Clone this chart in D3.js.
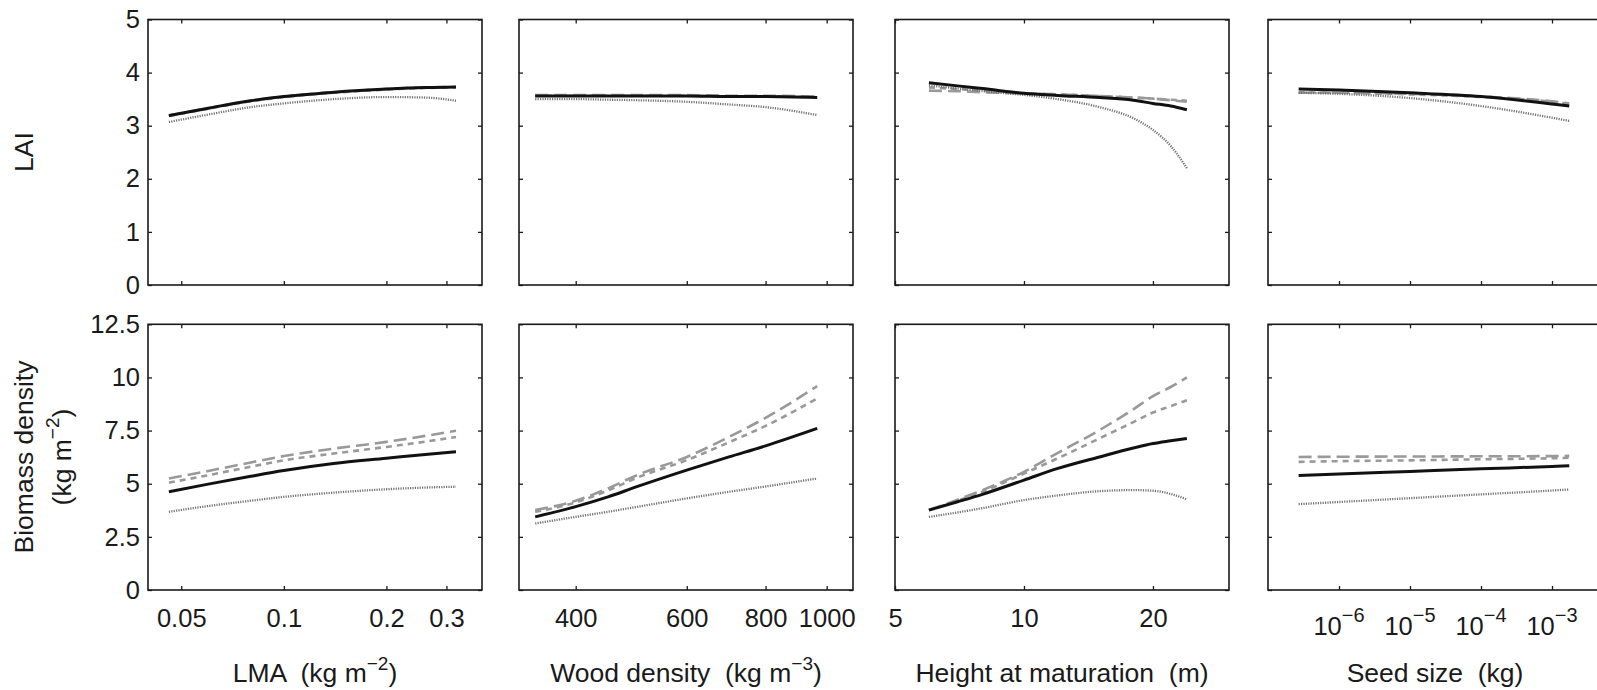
<!DOCTYPE html>
<html>
<head>
<meta charset="utf-8">
<script src="https://cdn.jsdelivr.net/npm/d3@7"></script>
<style>
  body { margin: 0; background: #fff; }
  text { font-family: "Liberation Sans", Arial, Helvetica, sans-serif; fill: #1a1a1a; white-space: pre; }
</style>
</head>
<body>
<svg id="chart" width="1597" height="690"></svg>
<script>
// ---------------- DATA ----------------
// LMA (kg m^-2)
const lmaX        = [0.046, 0.06, 0.08, 0.1, 0.14, 0.2, 0.26, 0.32];
const lmaLaiSolid = [3.19, 3.33, 3.47, 3.55, 3.63, 3.69, 3.72, 3.73];
const lmaLaiLong  = [3.19, 3.33, 3.47, 3.55, 3.63, 3.69, 3.72, 3.73];
const lmaLaiShort = [3.18, 3.32, 3.46, 3.54, 3.62, 3.68, 3.71, 3.72];
const lmaLaiDot   = [3.07, 3.21, 3.35, 3.42, 3.50, 3.54, 3.53, 3.47];
const lmaBioSolid = [4.62, 4.98, 5.35, 5.62, 5.95, 6.20, 6.38, 6.50];
const lmaBioLong  = [5.25, 5.60, 6.00, 6.30, 6.65, 6.97, 7.25, 7.49];
const lmaBioShort = [5.05, 5.40, 5.80, 6.10, 6.42, 6.73, 6.98, 7.20];
const lmaBioDot   = [3.68, 3.95, 4.20, 4.38, 4.58, 4.74, 4.82, 4.86];

// Wood density (kg m^-3)
const woodX        = [345, 400, 450, 500, 600, 700, 800, 966];
const woodLaiSolid = [3.56, 3.56, 3.56, 3.56, 3.56, 3.55, 3.55, 3.53];
const woodLaiLong  = [3.575, 3.575, 3.575, 3.575, 3.575, 3.565, 3.565, 3.545];
const woodLaiShort = [3.565, 3.565, 3.565, 3.565, 3.565, 3.555, 3.555, 3.535];
const woodLaiDot   = [3.50, 3.50, 3.49, 3.48, 3.45, 3.40, 3.35, 3.20];
const woodBioSolid = [3.44, 3.92, 4.38, 4.86, 5.64, 6.26, 6.78, 7.60];
const woodBioLong  = [3.76, 4.20, 4.78, 5.40, 6.26, 7.20, 8.10, 9.59];
const woodBioShort = [3.68, 4.12, 4.68, 5.28, 6.11, 6.95, 7.72, 9.01];
const woodBioDot   = [3.13, 3.44, 3.68, 3.91, 4.31, 4.62, 4.87, 5.25];

// Height at maturation (m)
const heightX        = [6, 7, 8, 10, 12, 15, 18, 20, 22, 24];
const heightLaiSolid = [3.81, 3.75, 3.70, 3.61, 3.57, 3.53, 3.48, 3.42, 3.37, 3.30];
const heightLaiLong  = [3.66, 3.65, 3.63, 3.61, 3.59, 3.56, 3.53, 3.51, 3.48, 3.45];
const heightLaiShort = [3.72, 3.69, 3.66, 3.61, 3.59, 3.56, 3.53, 3.51, 3.49, 3.47];
const heightLaiDot   = [3.76, 3.70, 3.65, 3.58, 3.50, 3.35, 3.14, 2.92, 2.62, 2.20];
const heightBioSolid = [3.76, 4.15, 4.50, 5.17, 5.72, 6.26, 6.68, 6.89, 7.02, 7.13];
const heightBioLong  = [3.76, 4.25, 4.70, 5.56, 6.45, 7.52, 8.50, 9.12, 9.55, 10.0];
const heightBioShort = [3.76, 4.20, 4.62, 5.48, 6.20, 7.13, 7.90, 8.35, 8.65, 8.93];
const heightBioDot   = [3.44, 3.65, 3.85, 4.23, 4.45, 4.65, 4.70, 4.67, 4.52, 4.26];

// Seed size (kg)
const seedX        = [2.7e-7, 1e-6, 1e-5, 1e-4, 1e-3, 1.75e-3];
const seedLaiSolid = [3.69, 3.67, 3.62, 3.55, 3.41, 3.37];
const seedLaiLong  = [3.62, 3.62, 3.60, 3.55, 3.46, 3.42];
const seedLaiShort = [3.63, 3.62, 3.59, 3.54, 3.45, 3.41];
const seedLaiDot   = [3.62, 3.60, 3.52, 3.37, 3.15, 3.09];
const seedBioSolid = [5.39, 5.46, 5.58, 5.70, 5.81, 5.84];
const seedBioLong  = [6.26, 6.27, 6.28, 6.29, 6.30, 6.31];
const seedBioShort = [6.03, 6.06, 6.10, 6.15, 6.20, 6.22];
const seedBioDot   = [4.04, 4.14, 4.32, 4.50, 4.68, 4.73];

// Ticks
const lmaTicks = [0.05, 0.1, 0.2, 0.3];
const lmaTickLabels = ["0.05", "0.1", "0.2", "0.3"];
const woodTicks = [400, 600, 800, 1000];
const woodTickLabels = ["400", "600", "800", "1000"];
const heightTicks = [5, 10, 20];
const heightTickLabels = ["5", "10", "20"];
const seedTicks = [1e-6, 1e-5, 1e-4, 1e-3];
const seedTickExponents = ["\u22126", "\u22125", "\u22124", "\u22123"];
const laiTicks = [0, 1, 2, 3, 4, 5];
const laiTickLabels = ["0", "1", "2", "3", "4", "5"];
const bioTicks = [0, 2.5, 5, 7.5, 10, 12.5];
const bioTickLabels = ["0", "2.5", "5", "7.5", "10", "12.5"];

// Axis labels
const xLabels = [
  ["LMA  (kg m", "\u22122", ")"],
  ["Wood density  (kg m", "\u22123", ")"],
  ["Height at maturation  (m)", "", ""],
  ["Seed size  (kg)", "", ""]
];

// ---------------- LAYOUT ----------------
const svg = d3.select("#chart");
const panelW = 334;
const lefts = [148, 519, 895, 1268];
const rows = [{ top: 19.5, bottom: 285 }, { top: 324.3, bottom: 590 }];
const xDomains = [[0.03994, 0.3815], [325.2, 1100.8], [5, 30.1], [1e-7, 5.06e-3]];

const panels = [
  { x: lmaX, ticks: lmaTicks, labels: lmaTickLabels,
    lai: [lmaLaiLong, lmaLaiShort, lmaLaiDot, lmaLaiSolid],
    bio: [lmaBioLong, lmaBioShort, lmaBioDot, lmaBioSolid] },
  { x: woodX, ticks: woodTicks, labels: woodTickLabels,
    lai: [woodLaiLong, woodLaiShort, woodLaiDot, woodLaiSolid],
    bio: [woodBioLong, woodBioShort, woodBioDot, woodBioSolid] },
  { x: heightX, ticks: heightTicks, labels: heightTickLabels,
    lai: [heightLaiLong, heightLaiShort, heightLaiDot, heightLaiSolid],
    bio: [heightBioLong, heightBioShort, heightBioDot, heightBioSolid] },
  { x: seedX, ticks: seedTicks, labels: null,
    lai: [seedLaiLong, seedLaiShort, seedLaiDot, seedLaiSolid],
    bio: [seedBioLong, seedBioShort, seedBioDot, seedBioSolid] }
];

const styles = [
  { stroke: "#999999", width: 2.6, dash: "13,6" },   // long dash
  { stroke: "#999999", width: 2.6, dash: "6,5" },    // short dash
  { stroke: "#737373", width: 2.3, dash: "1.2,1.2" },// dotted
  { stroke: "#111111", width: 3.0, dash: null }      // solid
];

const tickFont = 25.5;
const labelFont = 26.5;

function styleAxis(g) {
  g.select(".domain").remove();
  g.selectAll(".tick line").attr("stroke", "#1a1a1a").attr("stroke-width", 1.3);
  g.selectAll(".tick text").style("font-size", tickFont + "px")
    .style("font-family", '"Liberation Sans", Arial, Helvetica, sans-serif').attr("fill", "#1a1a1a");
}

panels.forEach((p, pi) => {
  const x0 = lefts[pi], x1 = x0 + panelW;
  const xs = d3.scaleLog().domain(xDomains[pi]).range([x0, x1]);

  rows.forEach((r, ri) => {
    const ys = d3.scaleLinear().domain(ri === 0 ? [0, 5] : [0, 12.5]).range([r.bottom, r.top]);
    const yTicks = ri === 0 ? laiTicks : bioTicks;
    const yTickLabels = ri === 0 ? laiTickLabels : bioTickLabels;
    const g = svg.append("g");

    // series
    const seriesSet = ri === 0 ? p.lai : p.bio;
    const line = d3.line().x(d => xs(d[0])).y(d => ys(d[1])).curve(d3.curveMonotoneX);
    seriesSet.forEach((vals, si) => {
      const st = styles[si];
      const pts = p.x.map((xv, i) => [xv, vals[i]]);
      g.append("path").datum(pts).attr("d", line)
        .attr("fill", "none").attr("stroke", st.stroke)
        .attr("stroke-width", st.width)
        .attr("stroke-dasharray", st.dash)
        .attr("stroke-linejoin", "round");
    });

    // axes (inward ticks on all sides)
    const leftAx = d3.axisLeft(ys).tickValues(yTicks).tickSize(-4).tickSizeOuter(0).tickPadding(8)
      .tickFormat(pi === 0 ? ((d, i) => yTickLabels[i]) : () => "");
    g.append("g").attr("transform", `translate(${x0},0)`).call(leftAx).call(styleAxis);
    g.append("g").attr("transform", `translate(${x1},0)`)
      .call(d3.axisRight(ys).tickValues(yTicks).tickSize(-4).tickSizeOuter(0).tickFormat(() => ""))
      .call(styleAxis);
    g.append("g").attr("transform", `translate(0,${r.top})`)
      .call(d3.axisTop(xs).tickValues(p.ticks).tickSize(-4).tickSizeOuter(0).tickFormat(() => ""))
      .call(styleAxis);

    const showX = ri === 1 && p.labels;
    const bottomAx = d3.axisBottom(xs).tickValues(p.ticks).tickSize(-4).tickSizeOuter(0)
      .tickFormat(showX ? ((d, i) => p.labels[i]) : () => "");
    const bg = g.append("g").attr("transform", `translate(0,${r.bottom})`).call(bottomAx).call(styleAxis);
    if (showX) bg.selectAll(".tick text").attr("y", 37).attr("dy", 0);

    if (ri === 1 && pi === 3) {
      // 10^n labels
      seedTicks.forEach((t, i) => {
        const tx = g.append("text").attr("x", xs(t)).attr("y", r.bottom + 45)
          .attr("text-anchor", "middle").style("font-size", tickFont + "px");
        tx.append("tspan").text("10");
        tx.append("tspan").attr("dy", -13).style("font-size", "20px").text(seedTickExponents[i]);
      });
    }

    // box
    g.append("rect").attr("x", x0).attr("y", r.top).attr("width", panelW).attr("height", r.bottom - r.top)
      .attr("fill", "none").attr("stroke", "#1a1a1a").attr("stroke-width", 1.6);
  });

  // x axis label
  const lab = xLabels[pi];
  const t = svg.append("text").attr("x", x0 + panelW / 2).attr("y", 682)
    .attr("text-anchor", "middle").style("font-size", labelFont + "px");
  t.append("tspan").text(lab[0]);
  if (lab[1]) {
    t.append("tspan").attr("dy", -12).style("font-size", "19px").text(lab[1]);
    t.append("tspan").attr("dy", 12).text(lab[2]);
  }
});

// y axis labels
svg.append("text").attr("transform", "translate(33,152) rotate(-90)")
  .attr("text-anchor", "middle").style("font-size", labelFont + "px").text("LAI");
svg.append("text").attr("transform", "translate(33,457) rotate(-90)")
  .attr("text-anchor", "middle").style("font-size", labelFont + "px").text("Biomass density");
const yl = svg.append("text").attr("transform", "translate(71,457) rotate(-90)")
  .attr("text-anchor", "middle").style("font-size", labelFont + "px");
yl.append("tspan").text("(kg m");
yl.append("tspan").attr("dy", -12).style("font-size", "19px").text("\u22122");
yl.append("tspan").attr("dy", 12).text(")");
</script>
</body>
</html>
